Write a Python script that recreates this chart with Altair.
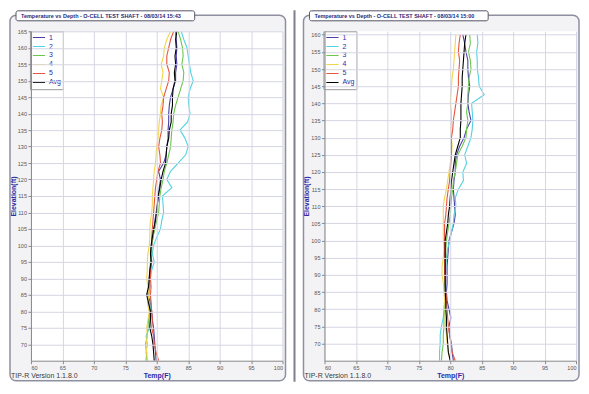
import altair as alt
import pandas as pd

NAMES = ["1", "2", "3", "4", "5", "Avg"]
COLORS = ["#4b3fa6", "#52d2e2", "#6cc64c", "#f2d54e", "#e6553f", "#000000"]
WIDTHS = [1.1, 1.1, 1.1, 1.1, 1.1, 2.6]

X_TICKS = [60, 65, 70, 75, 80, 85, 90, 95, 100]

# ---------------- left panel ----------------
L_TITLE = "Temperature vs Depth - O-CELL TEST SHAFT - 08/03/14 15:43"
L_YDOM = [65, 165]
L_YTICKS = [70, 75, 80, 85, 90, 95, 100, 105, 110, 115, 120, 125, 130, 135, 140, 145, 150, 155, 160, 165]
L_ELEV = [165, 162.5, 160, 157.5, 155, 152.5, 150, 147.5, 145, 142.5, 140, 137.5, 135, 132.5, 130,
          127.5, 125, 122.5, 120, 117.5, 115, 112.5, 110, 107.5, 105, 102.5, 100, 97.5, 95, 92.5,
          90, 87.5, 85, 82.5, 80, 77.5, 75, 72.5, 70, 67.5, 65]
L_T1 = [83.0, 83.1, 83.2, 83.1, 83.2, 83.0, 83.0, 82.6, 82.2, 82.0, 81.9, 81.9, 81.8, 81.8, 81.6,
        81.5, 81.1, 80.3, 80.6, 80.4, 80.3, 80.1, 79.9, 79.7, 79.6, 79.4, 79.2, 79.1, 79.2, 79.0,
        78.8, 78.9, 78.6, 79.0, 79.2, 79.3, 79.5, 79.6, 79.7, 79.8, 79.9]
L_T2 = [83.9, 84.3, 84.8, 85.0, 85.2, 85.4, 85.8, 85.3, 85.0, 85.1, 85.3, 84.9, 83.7, 84.5, 85.0,
        84.6, 83.4, 82.2, 81.6, 82.4, 80.9, 81.0, 81.1, 80.8, 80.6, 80.0, 79.5, 79.3, 79.6, 79.2,
        79.0, 78.8, 78.9, 79.1, 79.0, 78.9, 78.8, 78.3, 78.5, 78.3, 78.5]
L_T3 = [83.4, 83.8, 84.1, 84.2, 84.0, 84.3, 84.2, 83.8, 83.4, 83.0, 82.7, 82.6, 82.4, 82.3, 82.2,
        81.9, 81.6, 81.2, 81.0, 80.7, 80.5, 80.4, 80.3, 80.0, 79.7, 79.4, 79.2, 79.2, 79.0, 78.9,
        78.9, 78.7, 78.6, 78.8, 78.9, 78.7, 78.6, 78.5, 78.2, 78.4, 78.3]
L_T4 = [82.2, 81.6, 81.2, 81.1, 80.7, 81.0, 80.8, 80.6, 81.1, 80.7, 80.6, 80.4, 80.3, 80.2, 80.0,
        79.9, 79.8, 79.6, 79.5, 79.4, 79.3, 79.3, 79.2, 79.0, 78.9, 78.9, 78.8, 78.6, 78.5, 78.5,
        78.4, 78.6, 78.8, 78.5, 78.8, 78.6, 78.4, 78.5, 78.3, 78.4, 78.5]
L_T5 = [82.7, 82.2, 81.9, 81.6, 81.6, 82.0, 81.9, 81.5, 81.1, 81.0, 80.8, 80.9, 80.8, 80.5, 80.3,
        80.5, 80.6, 80.2, 80.0, 79.8, 79.7, 79.6, 79.5, 79.4, 79.3, 79.2, 79.2, 79.1, 79.2, 79.0,
        79.0, 79.1, 79.0, 79.1, 79.2, 79.3, 79.2, 79.5, 79.6, 79.9, 80.3]
L_AVG = [83.2, 83.0, 83.1, 82.9, 83.0, 82.8, 82.9, 82.6, 82.5, 82.5, 82.3, 82.3, 82.0, 81.9, 81.6,
         81.5, 81.4, 81.0, 80.7, 80.5, 80.2, 80.1, 80.0, 79.8, 79.5, 79.3, 79.1, 79.0, 79.1, 78.9,
         78.8, 78.7, 78.4, 78.7, 79.0, 79.0, 78.9, 79.2, 79.4, 79.5, 79.6]

# ---------------- right panel ----------------
R_TITLE = "Temperature vs Depth - O-CELL TEST SHAFT - 08/03/14 15:00"
R_YDOM = [65, 161]
R_YTICKS = [70, 75, 80, 85, 90, 95, 100, 105, 110, 115, 120, 125, 130, 135, 140, 145, 150, 155, 160]
R_ELEV = [160, 157.5, 155, 152.5, 150, 147.5, 145, 142.5, 140, 137.5, 135, 132.5, 130,
          127.5, 125, 122.5, 120, 117.5, 115, 112.5, 110, 107.5, 105, 102.5, 100, 97.5, 95, 92.5,
          90, 87.5, 85, 82.5, 80, 77.5, 75, 72.5, 70, 67.5, 65]
R_T1 = [82.0, 82.3, 82.5, 82.8, 82.8, 82.9, 83.1, 82.9, 82.8, 83.0, 83.3, 82.6, 82.2,
        81.5, 81.0, 80.8, 80.8, 80.6, 80.5, 80.6, 80.7, 80.8, 80.6, 80.2, 79.8, 79.7, 79.6, 79.5,
        79.5, 79.5, 79.4, 79.5, 79.8, 80.1, 79.8, 79.9, 80.2, 80.3, 80.5]
R_T2 = [84.3, 84.4, 84.2, 84.3, 84.3, 84.5, 84.6, 85.4, 83.4, 83.5, 83.6, 83.5, 83.3,
        82.8, 82.3, 82.6, 82.0, 82.1, 81.3, 80.8, 80.9, 80.6, 80.5, 80.2, 79.9, 79.6, 79.4, 79.3,
        79.2, 79.2, 79.3, 79.1, 79.0, 78.9, 78.6, 78.4, 78.4, 78.3, 78.3]
R_T3 = [83.1, 83.2, 82.9, 83.2, 83.3, 83.0, 82.9, 82.8, 82.8, 82.6, 82.8, 82.6, 82.5,
        81.9, 81.2, 81.0, 80.8, 80.5, 80.4, 80.2, 80.1, 80.0, 79.8, 79.6, 79.4, 79.3, 79.3, 79.2,
        79.2, 79.1, 79.2, 79.2, 79.1, 79.0, 79.0, 78.9, 78.9, 78.7, 78.6]
R_T4 = [80.9, 80.8, 80.7, 80.6, 80.5, 80.3, 80.2, 80.1, 80.0, 80.2, 80.2, 80.1, 80.2,
        80.3, 80.2, 80.0, 79.8, 79.6, 79.4, 79.1, 78.9, 78.9, 78.9, 78.9, 78.9, 79.0, 78.9, 78.7,
        78.7, 78.9, 79.0, 79.1, 79.2, 79.2, 79.2, 79.4, 79.5, 79.7, 80.0]
R_T5 = [81.6, 81.4, 81.3, 81.5, 81.4, 81.3, 81.3, 81.1, 80.9, 80.7, 80.5, 80.4, 80.2,
        80.2, 80.2, 80.1, 80.0, 79.9, 79.7, 79.5, 79.4, 79.3, 79.1, 79.1, 79.1, 79.1, 79.1, 79.1,
        79.1, 79.2, 79.3, 79.4, 79.5, 79.6, 79.7, 79.9, 80.1, 80.3, 80.8]
R_AVG = [82.5, 82.3, 82.2, 82.1, 82.0, 81.9, 81.9, 81.8, 81.7, 81.7, 81.7, 81.6, 81.6,
         81.2, 80.8, 80.6, 80.4, 80.2, 80.1, 80.0, 79.9, 79.7, 79.6, 79.4, 79.2, 79.2, 79.2, 79.2,
         79.2, 79.2, 79.2, 79.3, 79.3, 79.4, 79.4, 79.5, 79.6, 79.7, 80.0]

W = 252
H = 330
FONT = "Liberation Sans"
BLUE = "#2b2ba6"


def axis(values, title, pad):
    return alt.Axis(values=values, title=title, zindex=1,
                    labelFontSize=5.5, labelColor="#555555", labelFont=FONT, labelPadding=1.5,
                    titleFont=FONT, titleFontSize=7, titleColor=BLUE, titleFontWeight="bold",
                    titlePadding=pad, tickSize=3, tickColor="#8a8a8a", domainColor="#8a8a8a",
                    gridColor="#d6d6e4", gridWidth=1)


def panel(elev, series, ydom, yticks, title, separator=False):
    rows = []
    for name, vals in zip(NAMES, series):
        for e, t in zip(elev, vals):
            rows.append({"series": name, "elev": e, "temp": t})
    df = pd.DataFrame(rows)
    one = alt.Chart(pd.DataFrame({"k": [0]}))

    layers = []
    if separator:
        layers.append(one.mark_rule(color="#7d7f90", strokeWidth=2).encode(
            x=alt.value(-30), y=alt.value(-21), y2=alt.value(H + 21)))
    layers.append(one.mark_rect(fill="#f3f3f5", stroke="#8e90a0", strokeWidth=1.5, cornerRadius=6).encode(
        x=alt.value(-21), x2=alt.value(W + 3), y=alt.value(-16), y2=alt.value(H + 20)))
    layers.append(one.mark_rect(fill="white").encode(
        x=alt.value(0), x2=alt.value(W), y=alt.value(0), y2=alt.value(H)))
    layers.append(one.mark_rect(fill="white", stroke="#555566", strokeWidth=1, cornerRadius=2).encode(
        x=alt.value(-15), x2=alt.value(164), y=alt.value(-20.5), y2=alt.value(-10.5)))
    layers.append(one.mark_text(align="left", baseline="middle", fontSize=5.5, font=FONT,
                                fontWeight="bold", color="#1f2a78").encode(
        x=alt.value(-10), y=alt.value(-15.5), text=alt.value(title)))
    layers.append(one.mark_text(align="left", baseline="middle", fontSize=7, font=FONT,
                                color="#3a3a3a").encode(
        x=alt.value(-20), y=alt.value(H + 15), text=alt.value("TIP-R Version 1.1.8.0")))

    legend = alt.Legend(title=None, orient="none", legendX=-1, legendY=0,
                        fillColor="white", strokeColor="#9a9a9a", padding=2,
                        symbolType="stroke", symbolSize=150, labelFontSize=7,
                        labelColor=BLUE, labelFont=FONT, rowPadding=0, clipHeight=8.5,
                        labelOffset=3)
    lines = alt.Chart(df).mark_line(clip=True).encode(
        x=alt.X("temp:Q", scale=alt.Scale(domain=[60, 100], nice=False, zero=False),
                axis=axis(X_TICKS, "Temp(F)", 1)),
        y=alt.Y("elev:Q", scale=alt.Scale(domain=ydom, nice=False, zero=False),
                axis=axis(yticks, "Elevation(ft)", 1)),
        color=alt.Color("series:N", scale=alt.Scale(domain=NAMES, range=COLORS), legend=legend),
        strokeWidth=alt.StrokeWidth("series:N", scale=alt.Scale(domain=NAMES, range=WIDTHS), legend=legend),
        order=alt.Order("elev:Q"),
    )
    layers.append(lines)
    return alt.layer(*layers).properties(width=W, height=H)


left = panel(L_ELEV, [L_T1, L_T2, L_T3, L_T4, L_T5, L_AVG], L_YDOM, L_YTICKS, L_TITLE)
right = panel(R_ELEV, [R_T1, R_T2, R_T3, R_T4, R_T5, R_AVG], R_YDOM, R_YTICKS, R_TITLE, separator=True)

chart = alt.hconcat(left, right, spacing=42, bounds="flush").resolve_scale(
    x="independent", y="independent", color="independent", strokeWidth="independent"
).properties(padding=0, background="white").configure_view(stroke="#a8a8b4", fill=None)

chart.save("out.html", embed_options={"renderer": "svg", "actions": False})
